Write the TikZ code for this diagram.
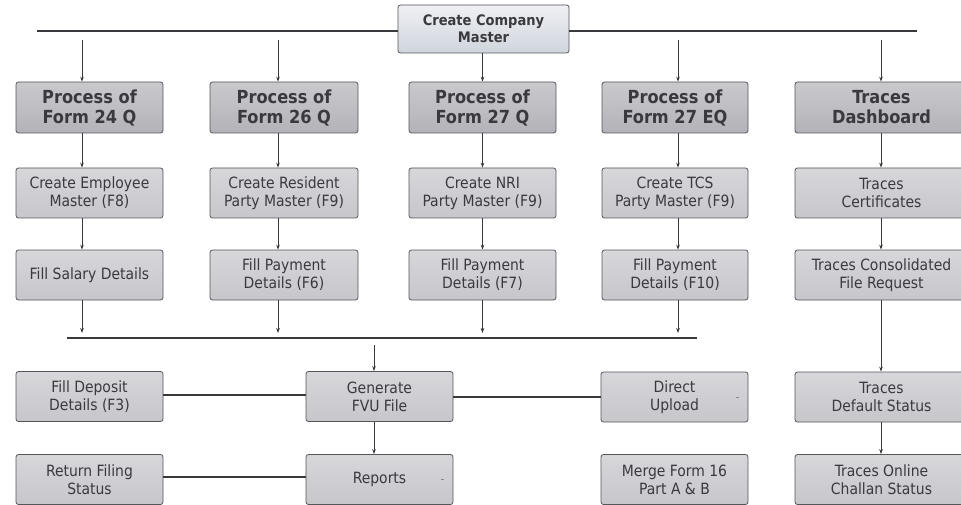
\documentclass[tikz,border=0pt]{standalone}
\usepackage{fontspec}
\setmainfont{DejaVu Sans Condensed}
\usetikzlibrary{arrows.meta}
\definecolor{txt}{HTML}{3A3A3E}
\definecolor{edge}{HTML}{55565A}
\definecolor{wire}{HTML}{38393C}
\definecolor{BoxC}{HTML}{C6C6CB}
\definecolor{HeadC}{HTML}{B2B2B8}
\definecolor{TopC}{HTML}{D0D5DD}
\tikzset{
  box/.style={draw=edge, line width=0.8pt, rounded corners=2.5pt,
    top color=BoxC!70!white, bottom color=BoxC, text=txt, align=center,
    minimum height=50pt, inner sep=0pt,
    font=\fontsize{15.5}{18}\selectfont},
  head/.style={draw=edge, line width=0.8pt, rounded corners=2.5pt,
    top color=HeadC!70!white, bottom color=HeadC, text=txt, align=center,
    minimum height=51pt, inner sep=0pt,
    font=\fontsize{18}{20}\selectfont\bfseries},
  topbox/.style={draw=edge, line width=0.8pt, rounded corners=2.5pt,
    top color=TopC!35!white, bottom color=TopC, text=txt, align=center,
    minimum height=48pt, inner sep=0pt,
    font=\fontsize{14.5}{17}\selectfont\bfseries},
  arr/.style={draw=wire, line width=0.8pt, -{Stealth[length=5pt,width=3.6pt]}},
  wireline/.style={draw=wire, line width=1.5pt},
  ddmark/.style={draw=edge!70, line width=0.8pt}
}
\begin{document}
\begin{tikzpicture}[x=1pt,y=-1pt]
\useasboundingbox (0,0) rectangle (961,505);
\clip (0,0) rectangle (961,505);
\fill[white] (0,0) rectangle (961,505);

% top
\node[topbox, minimum width=171pt] (cm) at (483.5,29) {Create Company\\Master};

% row 1
\node[head, minimum width=147pt] (p1) at (89.5,107.5) {Process of\\Form 24 Q};
\node[head, minimum width=148pt] (p2) at (284,107.5) {Process of\\Form 26 Q};
\node[head, minimum width=147pt] (p3) at (482.5,107.5) {Process of\\Form 27 Q};
\node[head, minimum width=146pt] (p4) at (675,107.5) {Process of\\Form 27 EQ};
\node[head, minimum width=173pt] (p5) at (881.5,107.5) {Traces\\Dashboard};

% row 2
\node[box, minimum width=147pt] (a1) at (89.5,193) {Create Employee\\Master (F8)};
\node[box, minimum width=148pt] (a2) at (284,193) {Create Resident\\Party Master (F9)};
\node[box, minimum width=147pt] (a3) at (482.5,193) {Create NRI\\Party Master (F9)};
\node[box, minimum width=146pt] (a4) at (675,193) {Create TCS\\Party Master (F9)};
\node[box, minimum width=173pt] (a5) at (881.5,193) {Traces\\Certificates};

% row 3
\node[box, minimum width=147pt] (b1) at (89.5,275) {Fill Salary Details};
\node[box, minimum width=148pt] (b2) at (284,275) {Fill Payment\\Details (F6)};
\node[box, minimum width=147pt] (b3) at (482.5,275) {Fill Payment\\Details (F7)};
\node[box, minimum width=146pt] (b4) at (675,275) {Fill Payment\\Details (F10)};
\node[box, minimum width=173pt] (b5) at (881.5,275) {Traces Consolidated\\File Request};

% row 4
\node[box, minimum width=147pt] (c1) at (89.5,396.5) {Fill Deposit\\Details (F3)};
\node[box, minimum width=147pt] (c2) at (379.5,396.5) {Generate\\FVU File};
\node[box, minimum width=147pt] (c3) at (674.5,397) {Direct\\Upload};
\node[box, minimum width=173pt] (c4) at (881.5,397) {Traces\\Default Status};

% row 5
\node[box, minimum width=147pt] (d1) at (89.5,479.5) {Return Filing\\Status};
\node[box, minimum width=147pt] (d2) at (379.5,479.5) {Reports};
\node[box, minimum width=147pt] (d3) at (674.5,479.5) {Merge Form 16\\Part A \& B};
\node[box, minimum width=173pt] (d4) at (881.5,479.5) {Traces Online\\Challan Status};

% top distribution line
\coordinate (tl) at (37,31);
\coordinate (tr) at (917,31);
\draw[wireline] (cm.west |- tl) -- (tl);
\draw[wireline] (cm.east |- tr) -- (tr);

% arrows from top line
\draw[arr] ([xshift=-7.5pt]p1.north |- 0,40) -- ([xshift=-7.5pt]p1.north);
\draw[arr] ([xshift=-6pt]p2.north |- 0,40) -- ([xshift=-6pt]p2.north);
\draw[arr] (cm.south -| p3.north) -- (p3.north);
\draw[arr] ([xshift=3pt]p4.north |- 0,40) -- ([xshift=3pt]p4.north);
\draw[arr] ([xshift=-0.5pt]p5.north |- 0,40) -- ([xshift=-0.5pt]p5.north);

% column arrows
\foreach \c/\s in {1/-7.5,2/-6,3/0,4/3,5/-0.5}{
  \draw[arr] ([xshift=\s pt]p\c.south) -- ([xshift=\s pt]a\c.north);
  \draw[arr] ([xshift=\s pt]a\c.south) -- ([xshift=\s pt]b\c.north);
}
% merge line
\coordinate (ml) at (67,338);
\coordinate (mr) at (697,338);
\draw[wireline] (ml) -- (mr);
\foreach \c/\s in {1/-7.5,2/-6,3/0,4/3}{
  \draw[arr] ([xshift=\s pt]b\c.south) -- ([xshift=\s pt]b\c.south |- 0,333);
}
\draw[arr] ([xshift=-0.5pt]b5.south) -- ([xshift=-0.5pt]c4.north);
\draw[arr] ([xshift=-0.5pt]c4.south) -- ([xshift=-0.5pt]d4.north);

% generate FVU
\draw[arr] ([xshift=-5.5pt]c2.north |- 0,345) -- ([xshift=-5.5pt]c2.north);
\draw[arr] ([xshift=-5.5pt]c2.south) -- ([xshift=-5.5pt]d2.north);
\draw[wireline] (c1.east |- 0,395) -- (c2.west |- 0,395);
\draw[wireline] (c2.east |- 0,397) -- (c3.west |- 0,397);
\draw[wireline] (d1.east |- 0,477) -- (d2.west |- 0,477);

% small dropdown marks
\draw[ddmark] ([xshift=-12pt]d2.east) -- ++(3,0);
\draw[ddmark] ([xshift=-12pt]c3.east) -- ++(3,0);
\end{tikzpicture}
\end{document}
